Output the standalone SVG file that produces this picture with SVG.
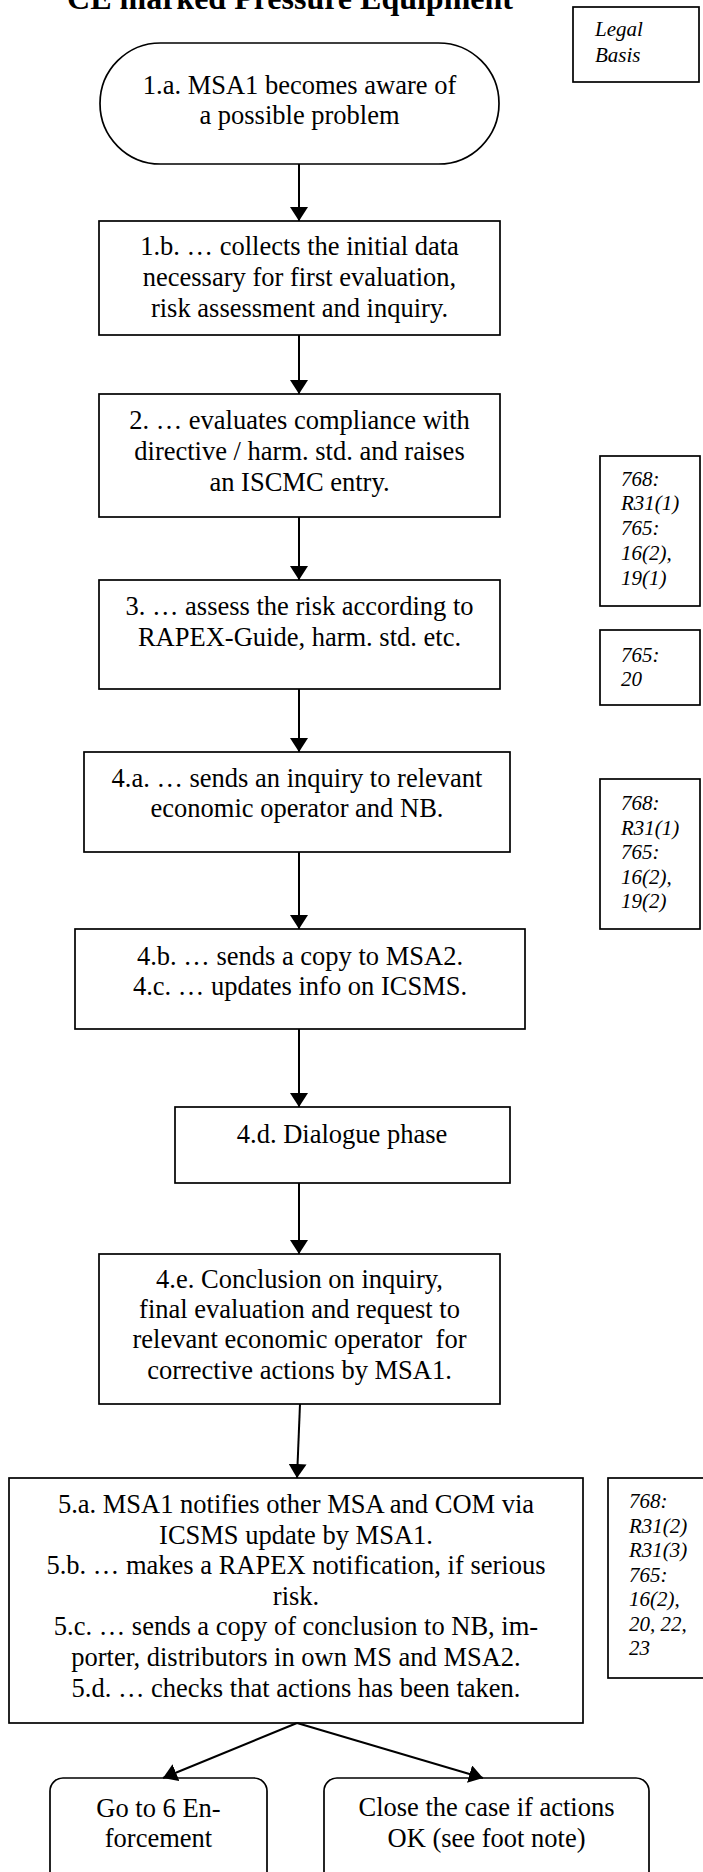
<svg xmlns="http://www.w3.org/2000/svg" width="703" height="1872" viewBox="0 0 703 1872">
<style>
.box{fill:#fff;stroke:#000;stroke-width:1.7}
.t{font-family:"Liberation Serif","Times New Roman",serif;font-size:26.5px;text-anchor:middle;fill:#000}
.lg{font-family:"Liberation Serif","Times New Roman",serif;font-size:21px;font-style:italic;fill:#000}
.title{font-family:"Liberation Serif","Times New Roman",serif;font-size:32px;font-weight:bold;text-anchor:middle;fill:#000}
.c{stroke:#000;stroke-width:2;fill:none}
</style>
<defs>
<marker id="ah" markerUnits="userSpaceOnUse" markerWidth="14" markerHeight="18" viewBox="0 0 14 18" refX="14" refY="9" orient="auto"><path d="M0,0 L14,9 L0,18 z" fill="#000"/></marker>
</defs>
<rect width="703" height="1872" fill="#fff"/>
<text class="title" x="290" y="9">CE marked Pressure Equipment</text>

<g id="legal-basis">
<rect class="box" x="573" y="7" width="126" height="75"/>
<text class="lg" x="595" y="36">Legal</text>
<text class="lg" x="595" y="62">Basis</text>
</g>

<g id="n1a">
<rect class="box" x="100" y="43" width="399" height="121" rx="60.5" ry="60.5"/>
<text class="t" x="299.5" y="94">1.a. MSA1 becomes aware of</text>
<text class="t" x="299.5" y="124">a possible problem</text>
</g>

<g id="n1b">
<rect class="box" x="99" y="221" width="401" height="114"/>
<text class="t" x="299.5" y="255">1.b. … collects the initial data</text>
<text class="t" x="299.5" y="286">necessary for first evaluation,</text>
<text class="t" x="299.5" y="317">risk assessment and inquiry.</text>
</g>

<g id="n2">
<rect class="box" x="99" y="394" width="401" height="123"/>
<text class="t" x="299.5" y="429">2. … evaluates compliance with</text>
<text class="t" x="299.5" y="460">directive / harm. std. and raises</text>
<text class="t" x="299.5" y="491">an ISCMC entry.</text>
</g>

<g id="legal-2">
<rect class="box" x="600" y="456" width="100" height="150"/>
<text class="lg" x="621" y="486">768:</text>
<text class="lg" x="621" y="510">R31(1)</text>
<text class="lg" x="621" y="535">765:</text>
<text class="lg" x="621" y="560">16(2),</text>
<text class="lg" x="621" y="585">19(1)</text>
</g>

<g id="n3">
<rect class="box" x="99" y="580" width="401" height="109"/>
<text class="t" x="299.5" y="615">3. … assess the risk according to</text>
<text class="t" x="299.5" y="646">RAPEX-Guide, harm. std. etc.</text>
</g>

<g id="legal-3">
<rect class="box" x="600" y="630" width="100" height="75"/>
<text class="lg" x="621" y="662">765:</text>
<text class="lg" x="621" y="686">20</text>
</g>

<g id="n4a">
<rect class="box" x="84" y="752" width="426" height="100"/>
<text class="t" x="297" y="787">4.a. … sends an inquiry to relevant</text>
<text class="t" x="297" y="817">economic operator and NB.</text>
</g>

<g id="legal-4">
<rect class="box" x="600" y="779" width="100" height="150"/>
<text class="lg" x="621" y="810">768:</text>
<text class="lg" x="621" y="835">R31(1)</text>
<text class="lg" x="621" y="859">765:</text>
<text class="lg" x="621" y="884">16(2),</text>
<text class="lg" x="621" y="908">19(2)</text>
</g>

<g id="n4bc">
<rect class="box" x="75" y="929" width="450" height="100"/>
<text class="t" x="300" y="965">4.b. … sends a copy to MSA2.</text>
<text class="t" x="300" y="995">4.c. … updates info on ICSMS.</text>
</g>

<g id="n4d">
<rect class="box" x="175" y="1107" width="335" height="76"/>
<text class="t" x="342" y="1143">4.d. Dialogue phase</text>
</g>

<g id="n4e">
<rect class="box" x="99" y="1254" width="401" height="150"/>
<text class="t" x="299.5" y="1288">4.e. Conclusion on inquiry,</text>
<text class="t" x="299.5" y="1318">final evaluation and request to</text>
<text class="t" x="299.5" y="1348" style="white-space:pre">relevant economic operator  for</text>
<text class="t" x="299.5" y="1379">corrective actions by MSA1.</text>
</g>

<g id="n5">
<rect class="box" x="9" y="1478" width="574" height="245"/>
<text class="t" x="296" y="1513">5.a. MSA1 notifies other MSA and COM via</text>
<text class="t" x="296" y="1543.6">ICSMS update by MSA1.</text>
<text class="t" x="296" y="1574.2">5.b. … makes a RAPEX notification, if serious</text>
<text class="t" x="296" y="1604.8">risk.</text>
<text class="t" x="296" y="1635.4">5.c. … sends a copy of conclusion to NB, im-</text>
<text class="t" x="296" y="1666">porter, distributors in own MS and MSA2.</text>
<text class="t" x="296" y="1696.6">5.d. … checks that actions has been taken.</text>
</g>

<g id="legal-5">
<rect class="box" x="608" y="1478" width="100" height="200"/>
<text class="lg" x="629" y="1508">768:</text>
<text class="lg" x="629" y="1533">R31(2)</text>
<text class="lg" x="629" y="1557">R31(3)</text>
<text class="lg" x="629" y="1582">765:</text>
<text class="lg" x="629" y="1606">16(2),</text>
<text class="lg" x="629" y="1631">20, 22,</text>
<text class="lg" x="629" y="1655">23</text>
</g>

<g id="n6-enforcement">
<rect class="box" x="50" y="1778" width="217" height="130" rx="13" ry="13"/>
<text class="t" x="158.5" y="1817">Go to 6 En-</text>
<text class="t" x="158.5" y="1847">forcement</text>
</g>

<g id="n-close">
<rect class="box" x="324" y="1778" width="325" height="130" rx="13" ry="13"/>
<text class="t" x="486.5" y="1816">Close the case if actions</text>
<text class="t" x="486.5" y="1847">OK (see foot note)</text>
</g>

<g id="connectors">
<line class="c" x1="299" y1="164" x2="299" y2="221" marker-end="url(#ah)"/>
<line class="c" x1="299" y1="335" x2="299" y2="394" marker-end="url(#ah)"/>
<line class="c" x1="299" y1="517" x2="299" y2="580" marker-end="url(#ah)"/>
<line class="c" x1="299" y1="689" x2="299" y2="752" marker-end="url(#ah)"/>
<line class="c" x1="299" y1="852" x2="299" y2="929" marker-end="url(#ah)"/>
<line class="c" x1="299" y1="1029" x2="299" y2="1107" marker-end="url(#ah)"/>
<line class="c" x1="299" y1="1183" x2="299" y2="1254" marker-end="url(#ah)"/>
<line class="c" x1="300" y1="1404" x2="297" y2="1478" marker-end="url(#ah)"/>
<line class="c" x1="297" y1="1723" x2="163" y2="1778" marker-end="url(#ah)"/>
<line class="c" x1="297" y1="1723" x2="483" y2="1778" marker-end="url(#ah)"/>
</g>
</svg>
